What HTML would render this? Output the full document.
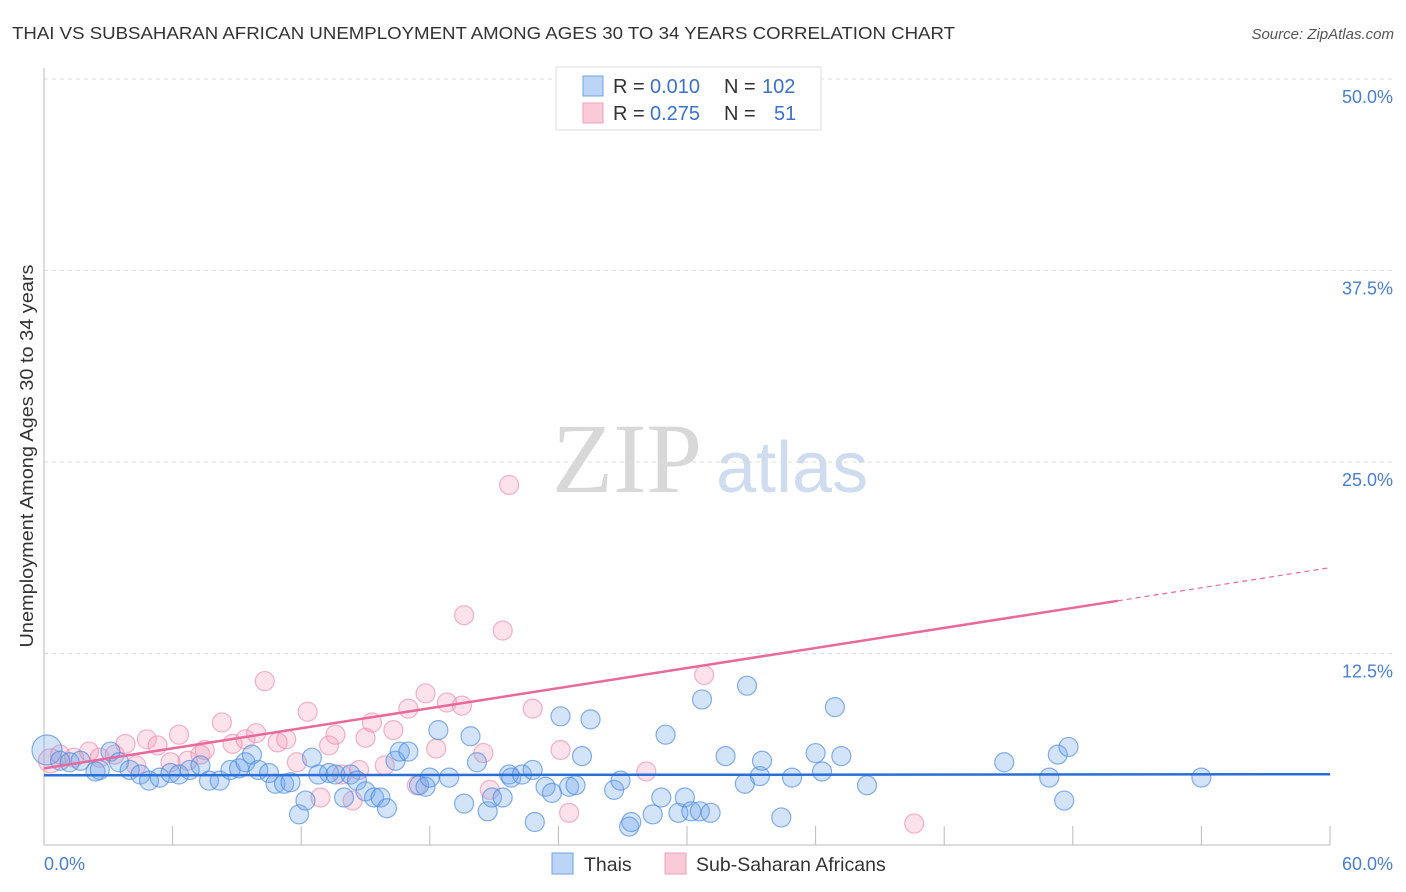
<!DOCTYPE html>
<html><head><meta charset="utf-8">
<style>
body{margin:0;background:#fff;}
svg{display:block;font-family:"Liberation Sans",sans-serif;}
</style></head>
<body>
<svg id="chart" width="1406" height="892" viewBox="0 0 1406 892" xmlns="http://www.w3.org/2000/svg">
<text x="12" y="39" font-size="17.5" fill="#333" textLength="943" lengthAdjust="spacingAndGlyphs">THAI VS SUBSAHARAN AFRICAN UNEMPLOYMENT AMONG AGES 30 TO 34 YEARS CORRELATION CHART</text>
<text x="1394" y="39" font-size="15" fill="#555" font-style="italic" text-anchor="end">Source: ZipAtlas.com</text>
<g>
<text x="552" y="492" font-size="100" font-family="Liberation Serif,serif" fill="#d8d8d8">ZIP</text>
<text x="716" y="492" font-size="72" fill="#cfdcf0">atlas</text>
</g>
<g id="grid"></g>
<g id="axes"></g>
<g id="marks"></g>
<text transform="translate(33,456) rotate(-90)" font-size="18" fill="#333" text-anchor="middle" textLength="383" lengthAdjust="spacingAndGlyphs">Unemployment Among Ages 30 to 34 years</text>
<g>
<rect x="556" y="67" width="265" height="63" fill="#fff" stroke="#ddd"/>
<rect x="583" y="76" width="20" height="20" fill="#bcd4f5" stroke="#6fa3e6"/>
<rect x="583" y="103" width="20" height="20" fill="#f9cad8" stroke="#f0a0bb"/>
<text x="613" y="93" font-size="20" fill="#333">R =</text>
<text x="650" y="93" font-size="20" fill="#3a72cc">0.010</text>
<text x="724" y="93" font-size="20" fill="#333">N =</text>
<text x="762" y="93" font-size="20" fill="#3a72cc">102</text>
<text x="613" y="120" font-size="20" fill="#333">R =</text>
<text x="650" y="120" font-size="20" fill="#3a72cc">0.275</text>
<text x="724" y="120" font-size="20" fill="#333">N =</text>
<text x="774" y="120" font-size="20" fill="#3a72cc">51</text>
</g>
<g>
<rect x="552" y="853" width="21" height="21" fill="#bcd4f5" stroke="#6fa3e6"/>
<text x="584" y="871" font-size="19.5" fill="#333">Thais</text>
<rect x="665" y="853" width="21" height="21" fill="#f9cad8" stroke="#f0a0bb"/>
<text x="696" y="871" font-size="19.5" fill="#333">Sub-Saharan Africans</text>
</g>
</svg>
<script>
const blueX=[0.14,0.75,1.2,1.7,2.4,2.6,3.1,3.5,4.0,4.5,4.9,5.4,5.9,6.3,6.8,7.3,7.7,8.2,8.7,9.1,9.4,9.7,10.0,10.5,10.8,11.2,11.5,11.9,12.2,12.5,12.8,13.3,13.6,14.0,14.3,14.6,15.0,15.4,15.7,16.0,16.4,16.6,17.0,17.5,17.8,18.0,18.4,18.9,19.6,19.9,20.2,20.7,20.9,21.4,21.7,21.8,22.3,22.8,22.9,23.4,23.7,24.1,24.5,24.8,25.1,25.5,26.6,26.9,27.3,27.4,28.4,28.8,29.0,29.6,29.9,30.2,30.6,30.7,31.1,31.8,32.7,32.8,33.4,33.5,34.4,34.9,36.0,36.3,36.9,37.2,38.4,44.8,46.9,47.3,47.8,47.6,54.0];
const blueY=[6.2,5.5,5.4,5.5,4.8,4.9,6.1,5.4,4.9,4.6,4.2,4.4,4.7,4.6,4.9,5.2,4.2,4.2,4.9,5.0,5.4,5.9,4.9,4.7,4.0,4.0,4.1,2.0,2.9,5.7,4.6,4.7,4.6,3.1,4.6,4.2,3.5,3.1,3.1,2.4,5.5,6.1,6.1,3.9,3.8,4.4,7.5,4.4,2.7,7.1,5.4,2.2,3.1,3.1,4.6,4.4,4.6,4.9,1.5,3.8,3.4,8.4,3.8,3.9,5.8,8.2,3.6,4.2,1.2,1.5,2.0,3.1,7.2,2.1,3.1,2.2,2.2,9.5,2.1,5.8,4.0,10.4,4.5,5.5,1.8,4.4,6.0,4.8,9.0,5.8,3.9,5.4,4.4,5.9,6.4,2.9,4.4];
const pinkX=[0.3,0.75,1.4,2.1,2.6,3.3,3.8,4.3,4.8,5.3,5.9,6.3,6.7,7.3,7.5,8.3,8.8,9.4,9.9,10.3,10.9,11.3,11.8,12.3,12.9,13.3,13.6,13.9,14.4,14.7,15.0,15.3,15.9,16.3,17.0,17.4,17.8,18.3,18.8,19.5,19.6,20.5,20.8,21.4,21.7,22.8,24.1,24.5,28.1,30.8,40.6,28.0];
const pinkY=[5.5,5.9,5.7,6.1,5.7,5.9,6.6,5.2,6.9,6.5,5.4,7.2,5.5,5.9,6.2,8.0,6.6,6.9,7.3,10.7,6.7,6.9,5.4,8.7,3.1,6.5,7.2,4.6,2.9,4.9,7.0,8.0,5.2,7.5,8.9,3.9,9.9,6.3,9.3,9.1,15.0,6.0,3.6,14.0,23.5,8.9,6.2,2.1,4.8,11.1,1.4,50.1];
const blueTrend=[4.55,4.62];
const pinkTrend=[5.0,18.1];
const pinkSolidEnd=50.1;
const yTicks=[12.5,25,37.5,50];
const yTickLabels=["12.5%","25.0%","37.5%","50.0%"];
const xTicks=[0,6,12,18,24,30,36,42,48,54,60];

const NS="http://www.w3.org/2000/svg";
const X0=44,X1=1330,Y0=845,YT=79;
const sx=v=>X0+(v/60)*(X1-X0);
const sy=v=>Y0-(v/50)*(Y0-YT);
function mk(tag,attrs,parent){const e=document.createElementNS(NS,tag);for(const k in attrs)e.setAttribute(k,attrs[k]);parent.appendChild(e);return e;}
const grid=document.getElementById('grid'),axes=document.getElementById('axes'),marks=document.getElementById('marks');
yTicks.forEach((t,i)=>{
  const l=mk('line',{x1:X0,x2:1394,y1:sy(t),y2:sy(t),stroke:'#ddd','stroke-dasharray':'4,4'},grid);
  
  
  const tx=mk('text',{x:1393,y:sy(t)+24,'font-size':18,fill:'#4a7fd0','text-anchor':'end'},axes);
  tx.textContent=yTickLabels[i];
  
  
});
const ax=mk('line',{x1:X0,x2:X1,y1:Y0,y2:Y0,stroke:'#bbb'},axes);


const ay=mk('line',{x1:X0,x2:X0,y1:68,y2:Y0,stroke:'#bbb'},axes);


xTicks.forEach(t=>{
  const l=mk('line',{x1:sx(t),x2:sx(t),y1:Y0-19,y2:Y0,stroke:'#bbb'},axes);
  
  
});
const xl0=mk('text',{x:44,y:870,'font-size':18,fill:'#4a7fd0'},axes);xl0.textContent='0.0%';


const xl1=mk('text',{x:1393,y:870,'font-size':18,fill:'#4a7fd0','text-anchor':'end'},axes);xl1.textContent='60.0%';



pinkX.forEach((x,i)=>{
  const c=mk('circle',{cx:sx(x),cy:sy(pinkY[i]),r:i===0?12:9.5,fill:'rgba(244,160,188,0.3)',stroke:'rgba(236,130,165,0.6)','stroke-width':1.2},marks);
  
  
});
blueX.forEach((x,i)=>{
  const c=mk('circle',{cx:sx(x),cy:sy(blueY[i]),r:i===0?15:9.5,fill:'rgba(110,165,235,0.3)',stroke:'rgba(70,135,225,0.65)','stroke-width':1.2},marks);
  
  
});
const pAt=x=>pinkTrend[0]+(pinkTrend[1]-pinkTrend[0])*x/60;
const pl=mk('line',{x1:sx(0),y1:sy(pinkTrend[0]),x2:sx(pinkSolidEnd),y2:sy(pAt(pinkSolidEnd)),stroke:'#e8699a','stroke-width':2.5},marks);


const pd=mk('line',{x1:sx(pinkSolidEnd),y1:sy(pAt(pinkSolidEnd)),x2:sx(60),y2:sy(pinkTrend[1]),stroke:'#e8699a','stroke-width':1.2,'stroke-dasharray':'5,4'},marks);


const bl=mk('line',{x1:sx(0),y1:sy(blueTrend[0]),x2:sx(60),y2:sy(blueTrend[1]),stroke:'#2a6fd6','stroke-width':2.5},marks);


</script>
</body></html>
